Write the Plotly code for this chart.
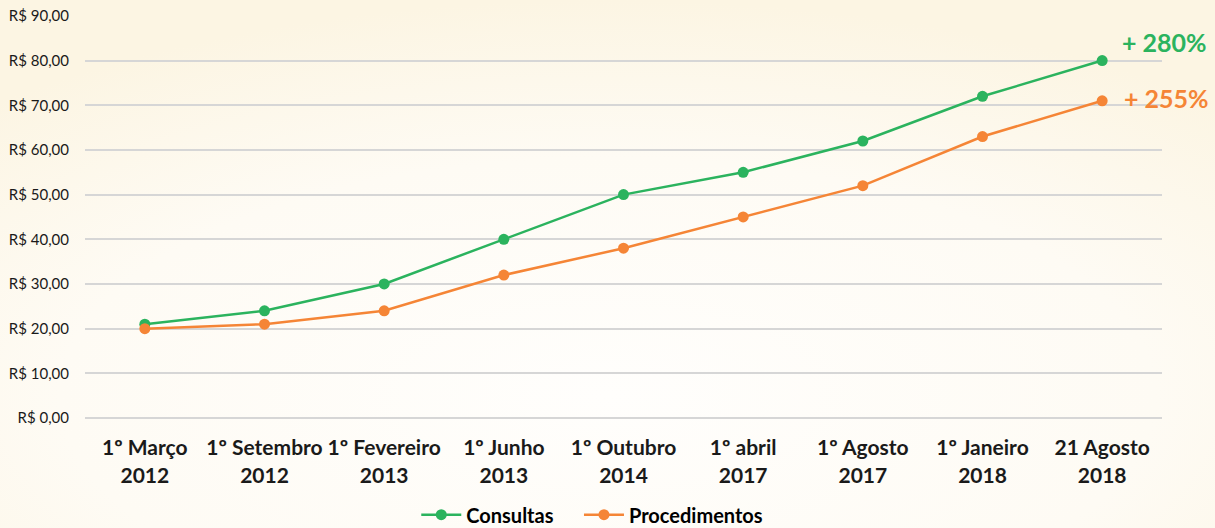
import plotly.graph_objects as go
import urllib.parse

categories = ["1º Março<br>2012", "1º Setembro<br>2012", "1º Fevereiro<br>2013", "1º Junho<br>2013",
              "1º Outubro<br>2014", "1º abril<br>2017", "1º Agosto<br>2017", "1º Janeiro<br>2018",
              "21 Agosto<br>2018"]
consultas = [21, 24, 30, 40, 50, 55, 62, 72, 80]
procedimentos = [20, 21, 24, 32, 38, 45, 52, 63, 71]
y_ticks = [0, 10, 20, 30, 40, 50, 60, 70, 80, 90]
y_labels = ["R$ 0,00", "R$ 10,00", "R$ 20,00", "R$ 30,00", "R$ 40,00", "R$ 50,00",
            "R$ 60,00", "R$ 70,00", "R$ 80,00", "R$ 90,00"]
green = "#2BB35E"
orange = "#F58536"
font = "Lato, 'Open Sans', sans-serif"

bg_svg = ('<svg xmlns="http://www.w3.org/2000/svg" width="1215" height="528" viewBox="0 0 1215 528" '
          'preserveAspectRatio="none"><defs><radialGradient id="g" cx="0.5" cy="0.75" r="0.75">'
          '<stop offset="0" stop-color="#FFFEFC"/><stop offset="0.6" stop-color="#FEFBF4"/>'
          '<stop offset="1" stop-color="#FCF5E3"/></radialGradient></defs>'
          '<rect width="1215" height="528" fill="url(#g)"/></svg>')
bg_uri = "data:image/svg+xml;charset=utf-8," + urllib.parse.quote(bg_svg)

fig = go.Figure()
fig.add_trace(go.Scatter(x=categories, y=consultas, name="<b>Consultas</b>&nbsp;&nbsp;&nbsp;&nbsp;",
                         mode="lines+markers",
                         line=dict(color=green, width=2.5), marker=dict(size=11, color=green)))
fig.add_trace(go.Scatter(x=categories, y=procedimentos, name="<b>Procedimentos</b>", mode="lines+markers",
                         line=dict(color=orange, width=2.5), marker=dict(size=11, color=orange)))

fig.add_annotation(x=categories[-1], y=consultas[-1], text="<b>+ 280%</b>", showarrow=False,
                   xanchor="left", xshift=18, yshift=19, font=dict(size=25, color=green, family=font))
fig.add_annotation(x=categories[-1], y=procedimentos[-1], text="<b>+ 255%</b>", showarrow=False,
                   xanchor="left", xshift=20, yshift=3, font=dict(size=25, color=orange, family=font))

fig.add_layout_image(source=bg_uri, xref="paper", yref="paper", x=-85/1077, y=1 + 15/403,
                     sizex=1215/1077, sizey=528/403, xanchor="left", yanchor="top",
                     sizing="stretch", layer="below")

fig.update_layout(
    width=1215, height=528,
    margin=dict(l=85, r=53, t=15, b=110, autoexpand=False),
    paper_bgcolor="#FDF9EF", plot_bgcolor="rgba(0,0,0,0)",
    font=dict(family=font, color="#1a1a1a"),
    showlegend=True,
    legend=dict(orientation="h", x=0.471, xanchor="center", y=-0.24, yanchor="middle",
                font=dict(size=20, color="#000000"), itemwidth=40,
                bgcolor="rgba(0,0,0,0)"),
)
fig.update_xaxes(range=[-0.5, 8.5], showgrid=False, zeroline=False, showline=False, automargin=False,
                 tickfont=dict(size=21, color="#1a1a1a"), ticks="outside", ticklen=11,
                 tickcolor="rgba(0,0,0,0)", tickprefix="<b>", ticksuffix="</b>")
fig.update_yaxes(range=[0, 90.2], tickvals=y_ticks, ticktext=y_labels, showgrid=True,
                 gridcolor="#D6D6D6", gridwidth=2, zeroline=True, zerolinecolor="#D6D6D6",
                 zerolinewidth=2, showline=False, automargin=False, ticklabeloverflow="allow",
                 tickfont=dict(size=15, color="#1a1a1a"), ticks="outside", ticklen=12,
                 tickcolor="rgba(0,0,0,0)")

fig.write_html("out.html", config={"displayModeBar": False},
               post_script="document.body.style.margin='0';document.body.style.background='#FDF9EF';")
